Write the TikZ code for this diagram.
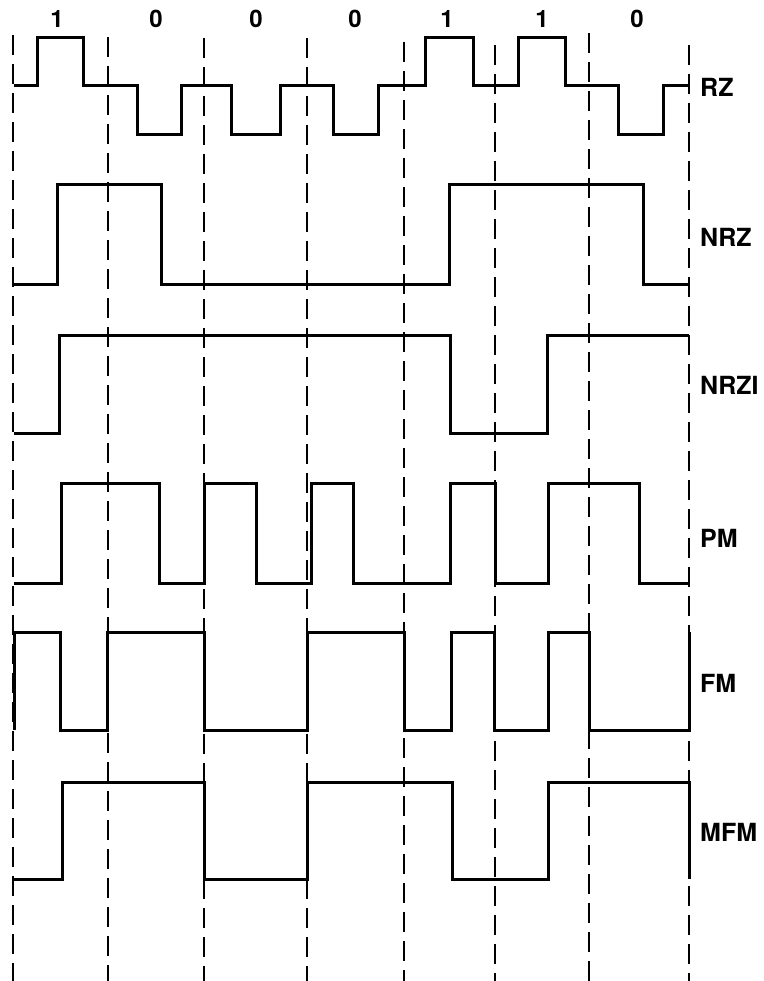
\documentclass[tikz,border=0pt]{standalone}
\usepackage{fontspec}
\setmainfont{TeX Gyre Heros}
\begin{document}
\begin{tikzpicture}[x=1pt,y=-1pt,
  sig/.style={line width=3pt, line join=miter},
  clk/.style={line width=2.2pt, dash pattern=on 20pt off 9pt},
  lbl/.style={font=\fontsize{25}{29}\selectfont\bfseries, inner sep=0pt, anchor=west},
  bitlbl/.style={font=\fontsize{24}{28}\selectfont\bfseries, inner sep=0pt}]
\useasboundingbox (0,0) rectangle (763,981);
\fill[white] (0,0) rectangle (763,981);

% bit-cell boundaries (dashed)
\foreach \x/\t [count=\i] in {13/35,108/37,204/38,307/38,404/42,495/45,589/33,689/45}
  \draw[clk] (\x,\t) coordinate (top\i) -- (\x,981) coordinate (bot\i);

% bit values
\foreach \x/\b [count=\i] in {57/1,156/0,256/0,355/0,447/1,542/1,637/0}
  \node[bitlbl] (bit\i) at (\x,19) {\b};

% RZ
\draw[sig] (14,86) -- (37,86) -- (37,38) -- (83,38) -- (83,86) -- (137,86) -- (137,135)
  -- (181,135) -- (181,86) -- (231,86) -- (231,135) -- (280,135) -- (280,86) -- (333,86)
  -- (333,135) -- (378,135) -- (378,86) -- (425,86) -- (425,38) -- (473,38) -- (473,86)
  -- (518,86) -- (518,38) -- (565,38) -- (565,86) -- (618,86) -- (618,135) -- (663,135)
  -- (663,86) -- (689,86);
\node[lbl] (rz) at (700,87) {RZ};

% NRZ
\draw[sig] (14,284) -- (57,284) -- (57,185) -- (161,185) -- (161,284) -- (449,284)
  -- (449,185) -- (643,185) -- (643,284) -- (689,284);
\node[lbl] (nrz) at (700,237) {NRZ};

% NRZI
\draw[sig] (14,433) -- (59,433) -- (59,335) -- (450,335) -- (450,433) -- (547,433)
  -- (547,335) -- (689,335);
\node[lbl] (nrzi) at (700,385) {NRZI};

% PM
\draw[sig] (14,583) -- (61,583) -- (61,483) -- (159,483) -- (159,583) -- (204,583)
  -- (204,483) -- (256,483) -- (256,583) -- (311,583) -- (311,483) -- (353,483)
  -- (353,583) -- (450,583) -- (450,483) -- (495,483) -- (495,583) -- (548,583)
  -- (548,483) -- (639,483) -- (639,583) -- (690,583);
\node[lbl] (pm) at (700,538) {PM};

% FM
\draw[sig] (14,730) -- (14,632) -- (60,632) -- (60,730) -- (107,730) -- (107,632)
  -- (204,632) -- (204,730) -- (307,730) -- (307,632) -- (404,632) -- (404,730)
  -- (451,730) -- (451,632) -- (494,632) -- (494,730) -- (548,730) -- (548,632)
  -- (589,632) -- (589,730) -- (689,730) -- (689,632);
\node[lbl] (fm) at (700,683) {FM};

% MFM
\draw[sig] (14,879) -- (62,879) -- (62,782) -- (204,782) -- (204,879) -- (307,879)
  -- (307,782) -- (452,782) -- (452,879) -- (548,879) -- (548,782) -- (689,782)
  -- (689,879);
\node[lbl] (mfm) at (700,832) {MFM};
\end{tikzpicture}
\end{document}
